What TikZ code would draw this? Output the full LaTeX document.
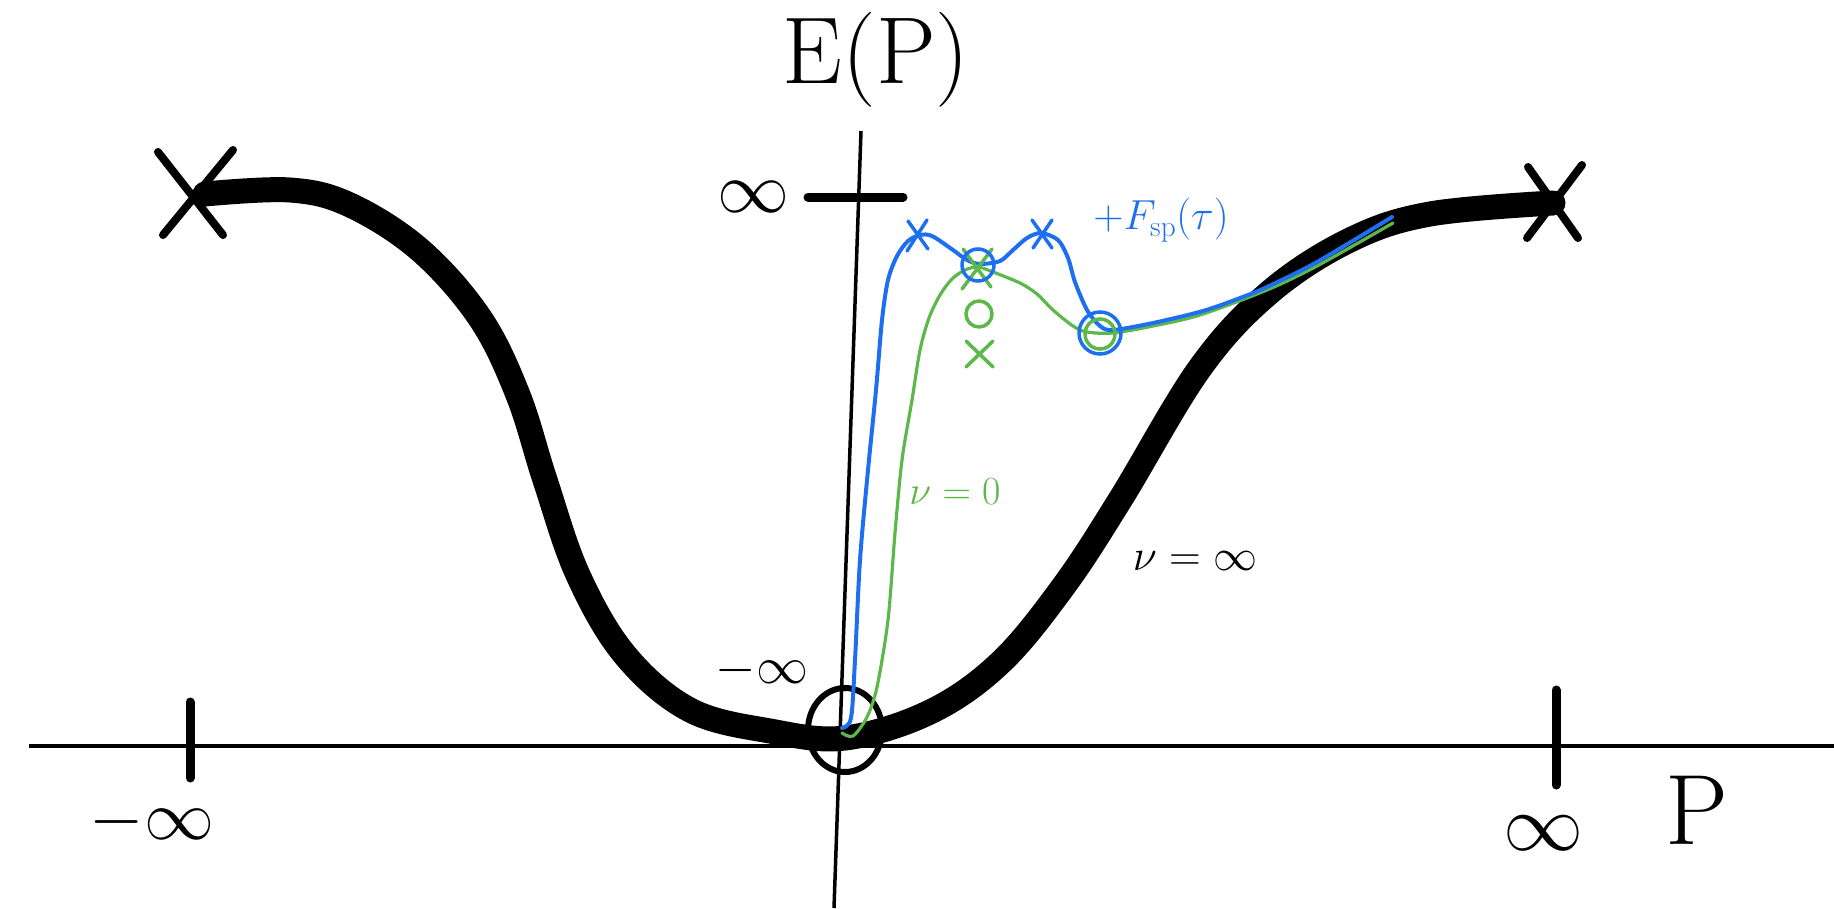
\RequirePackage{fix-cm}
\documentclass[tikz,border=0pt]{standalone}
\definecolor{pblue}{HTML}{1E6FF0}
\definecolor{pgreen}{HTML}{5CB84A}
\tikzset{
  axisline/.style={line width=3.5pt},
  tickmark/.style={line width=9pt, line cap=round},
  crossmark/.style={line width=8pt, line cap=round},
  bigcurve/.style={line width=25pt, line cap=round, line join=round},
  bluecurve/.style={pblue, line width=4pt, line cap=round, line join=round},
  greencurve/.style={pgreen, line width=3.2pt, line cap=round, line join=round},
  lbl/.style={inner sep=0pt, anchor=center}
}
\newcommand{\fsz}[1]{\fontsize{#1}{#1}\selectfont}
\begin{document}
\begin{tikzpicture}[x=1pt,y=-1pt]
\useasboundingbox (0,0) rectangle (1834,908);
% axes
\draw[axisline] (29,746) -- (1834,746);
\draw[axisline] (861,131) -- (834,908);
% ticks
\draw[tickmark] (190,702) -- (190,778);
\draw[tickmark] (1556,690) -- (1556,785);
\draw[tickmark] (808,197) -- (903,197);
% black curve
\draw[bigcurve] plot[smooth, tension=0.6] coordinates {
 (205,194) (290,190) (350,205) (420,250) (480,318) (518,395)
 (545,480) (578,575) (625,655) (690,710) (770,731) (845,738)
 (930,712) (1000,663) (1063,587) (1120,500) (1200,368) (1270,292)
 (1350,240) (1430,214) (1553,203)};
% end crosses
\draw[crossmark] (158,152) -- (223,235) (233,150) -- (163,235);
\draw[crossmark] (1528,167) -- (1578,238) (1582,165) -- (1527,238);
% origin ellipse
\draw[line width=6pt] (845,730) ellipse [x radius=37, y radius=42];
% green curve
\draw[greencurve] plot[smooth, tension=0.5] coordinates {
 (842,733) (853,736) (867,717) (877,687) (888,620) (895,533) (902,460) (912,400)
 (920,350) (929,318) (940,295) (952,279) (965,270) (978,267) (993,272) (1020,283)
 (1037,294) (1053,310) (1073,326) (1087,332) (1113,333) (1153,326) (1200,315)
 (1267,290) (1317,266) (1393,223)};
% blue curve
\draw[bluecurve] plot[smooth, tension=0.5] coordinates {
 (842,728) (851,718) (855,660) (860,560) (868,470) (876,390) (882,320)
 (888,280) (897,256) (908,241) (920,235) (932,236) (953,250) (967,260) (980,264)
 (1000,261) (1013,250) (1027,238) (1041,233) (1058,240) (1068,258) (1075,282)
 (1087,310) (1100,326) (1113,330) (1153,323) (1203,311) (1240,298) (1267,287)
 (1317,262) (1392,217)};
% green markers
\draw[pgreen, line width=3.5pt, line cap=round] (963,249) -- (991,287) (992,249) -- (962,289);
\draw[pgreen, line width=3.5pt] (979,314) circle [radius=13];
\draw[pgreen, line width=3.5pt, line cap=round] (966,341) -- (993,367) (993,341) -- (966,367);
\draw[pgreen, line width=3.5pt] (1100,334) circle [radius=15];
% blue markers
\draw[pblue, line width=3.5pt, line cap=round] (908,221) -- (928,249) (927,220) -- (907,251);
\draw[pblue, line width=3.5pt, line cap=round] (1032,220) -- (1052,248) (1052,220) -- (1033,248);
\draw[pblue, line width=3.5pt] (978,265) circle [radius=16];
\draw[pblue, line width=3.5pt] (1100,333) circle [radius=21];
% labels
\node[lbl] (ep) at (876,60) {\fsz{95}E(P)};
\node[lbl] (inftop) at (753,197) {\fsz{72}$\infty$};
\node[lbl] (minforig) at (762,670) {\fsz{52}$-\infty$};
\node[lbl] (minfleft) at (152,822) {\fsz{70}$-\infty$};
\node[lbl] (infright) at (1543,833) {\fsz{80}$\infty$};
\node[lbl] (plabel) at (1697,810) {\fsz{100}P};
\node[lbl, text=pblue] (fsp) at (1161,220) {\fsz{42}$+F_{\mathrm{sp}}(\tau)$};
\node[lbl, text=pgreen] (nuzero) at (955,492) {\fsz{40}$\nu=0$};
\node[lbl] (nuinf) at (1195,561) {\fsz{44}$\nu=\infty$};
\end{tikzpicture}
\end{document}
